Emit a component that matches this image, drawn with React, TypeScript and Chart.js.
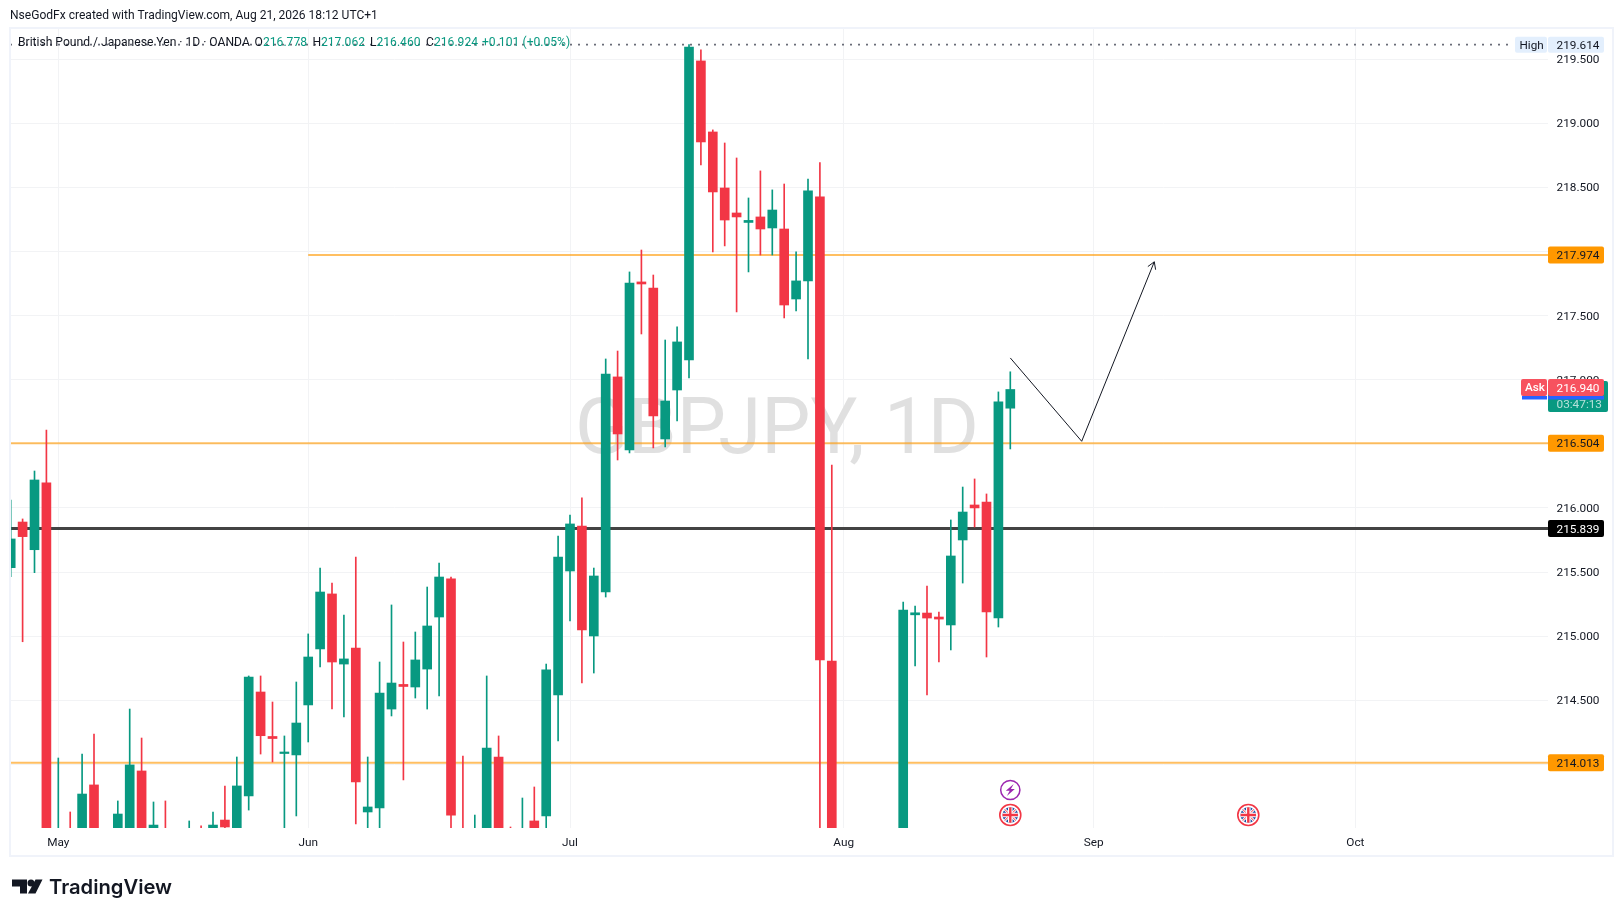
import React, { useEffect, useRef } from "react";
import { Chart, registerables } from "chart.js";

Chart.register(...registerables);

const firstIndex = -4;
const opens = [215.534,215.890,215.674,216.195,213.10,213.45,213.30,213.839,213.30,213.35,213.45,213.948,213.40,213.49,213.30,213.30,213.45,213.40,213.565,213.45,213.753,214.564,214.217,214.084,214.073,214.463,214.900,215.329,214.782,214.907,213.628,213.659,214.431,214.623,214.603,214.743,215.149,215.446,213.45,213.20,213.30,214.057,213.45,213.30,213.558,213.597,214.541,215.508,215.859,215.001,215.344,217.022,216.452,217.763,217.716,216.538,216.920,217.154,219.487,218.933,218.496,218.301,218.227,218.270,218.184,218.176,217.630,217.771,218.426,214.806,213.30,213.40,213.25,213.35,213.30,213.30,215.166,215.180,215.149,215.087,215.750,216.023,216.046,215.141,216.778];
const closes = [215.758,215.776,216.218,213.00,213.45,213.30,213.768,213.35,213.42,213.612,213.995,213.42,213.526,213.30,213.40,213.48,213.35,213.526,213.511,213.831,214.681,214.223,214.201,214.096,214.322,214.837,215.344,214.798,214.822,213.862,213.667,214.556,214.634,214.607,214.814,215.079,215.461,213.604,213.20,213.45,214.127,213.35,213.30,213.45,213.40,214.736,215.617,215.875,215.048,215.469,217.045,216.577,217.755,217.747,216.717,216.834,217.295,219.596,218.855,218.465,218.246,218.270,218.243,218.176,218.324,217.583,217.771,218.473,214.814,213.35,213.40,213.30,213.38,213.25,213.42,215.204,215.182,215.141,215.133,215.625,215.968,216.000,215.188,216.827,216.924];
const highs = [216.062,215.914,216.288,216.608,214.049,213.628,214.080,214.236,213.45,213.714,214.431,214.205,213.706,213.714,213.48,213.558,213.519,213.628,213.831,214.057,214.689,214.689,214.486,214.221,214.642,215.017,215.531,215.414,215.165,215.617,214.057,214.798,215.243,214.954,215.032,215.383,215.570,215.461,214.065,213.604,214.689,214.221,213.511,213.737,213.823,214.782,215.781,215.945,216.078,215.531,217.162,217.224,217.841,218.012,217.817,217.310,217.412,219.614,219.573,218.949,218.847,218.730,218.418,218.629,218.481,218.527,217.997,218.566,218.695,216.335,213.45,213.48,213.42,213.45,213.47,215.266,215.235,215.391,215.188,215.906,216.163,216.226,216.109,216.905,217.062];
const lows = [215.464,214.956,215.495,212.90,213.00,213.10,213.20,213.25,213.20,213.25,213.35,213.30,213.30,213.20,213.20,213.20,213.25,213.30,213.40,213.35,213.643,214.080,214.018,213.45,213.597,214.174,214.759,214.431,214.369,213.534,213.40,213.45,214.377,213.878,214.517,214.431,214.533,213.40,213.10,213.10,213.20,213.20,213.20,213.20,213.30,213.45,214.182,215.118,214.634,214.712,215.305,216.374,216.429,217.357,216.468,216.476,216.678,217.014,218.676,217.997,218.044,217.529,217.841,217.973,217.973,217.482,217.537,217.162,213.30,213.20,213.20,213.20,213.15,213.20,213.25,213.20,214.767,214.541,214.798,214.892,215.414,215.851,214.837,215.071,216.460];

const monthLabels = ["May", "Jun", "Jul", "Aug", "Sep", "Oct"];
const monthIndex = [0, 21, 43, 66, 87, 109];
const priceTicks = [214, 214.5, 215, 215.5, 216, 216.5, 217, 217.5, 218, 218.5, 219, 219.5];

const levels = [217.974, 216.504, 215.839, 214.013];
const levelStart = [21, -4.06, -4.06, -4.06];
const highPrice = 219.614;
const askPrice = 216.94;
const arrowX = [80, 86, 92.1];
const arrowY = [217.17, 216.52, 217.92];
const eventsBolt = [80];
const eventsFlag = [80, 100];

const xMin = -4.059;
const xMax = 125.185;
const yMin = 213.503;
const yMax = 219.744;

const GREEN = "#089981";
const RED = "#f23645";
const ORANGE = "#ff9800";
const LEVEL_COLORS = ["rgba(255,152,0,0.62)", "rgba(255,152,0,0.62)", "#434343", "rgba(255,152,0,0.62)"];
const LEVEL_WIDTHS = [2, 2, 3, 2];
const LEVEL_TAGS = [ORANGE, ORANGE, "#000000", ORANGE];
const LEVEL_TEXT = ["#131722", "#131722", "#ffffff", "#131722"];
const FONT = 'Roboto, "Liberation Sans", sans-serif';
const TICK_FONT_SIZE = 11.8;

const xs = opens.map((_, i) => i + firstIndex);

function roundRect(ctx: CanvasRenderingContext2D, x: number, y: number, w: number, h: number, r: number, fill: string) {
  ctx.fillStyle = fill;
  ctx.beginPath();
  ctx.roundRect(x, y, w, h, r);
  ctx.fill();
}

function drawFlag(ctx: CanvasRenderingContext2D, cx: number, cy: number) {
  ctx.save();
  ctx.beginPath();
  ctx.arc(cx, cy, 10.5, 0, Math.PI * 2);
  ctx.fillStyle = "#fff";
  ctx.fill();
  ctx.strokeStyle = RED;
  ctx.lineWidth = 1.6;
  ctx.stroke();
  ctx.beginPath();
  ctx.arc(cx, cy, 7.8, 0, Math.PI * 2);
  ctx.clip();
  ctx.fillStyle = "#1f4fa3";
  ctx.fillRect(cx - 9, cy - 9, 18, 18);
  ctx.strokeStyle = "#fff";
  ctx.lineWidth = 2.6;
  ctx.beginPath();
  ctx.moveTo(cx - 9, cy - 9);
  ctx.lineTo(cx + 9, cy + 9);
  ctx.moveTo(cx + 9, cy - 9);
  ctx.lineTo(cx - 9, cy + 9);
  ctx.stroke();
  ctx.strokeStyle = RED;
  ctx.lineWidth = 1;
  ctx.stroke();
  ctx.strokeStyle = "#fff";
  ctx.lineWidth = 4.6;
  ctx.beginPath();
  ctx.moveTo(cx, cy - 9);
  ctx.lineTo(cx, cy + 9);
  ctx.moveTo(cx - 9, cy);
  ctx.lineTo(cx + 9, cy);
  ctx.stroke();
  ctx.strokeStyle = RED;
  ctx.lineWidth = 2.4;
  ctx.stroke();
  ctx.restore();
}

function drawBolt(ctx: CanvasRenderingContext2D, cx: number, cy: number) {
  ctx.save();
  ctx.strokeStyle = "#9c27b0";
  ctx.lineWidth = 1.5;
  ctx.beginPath();
  ctx.arc(cx, cy, 9.6, 0, Math.PI * 2);
  ctx.stroke();
  ctx.fillStyle = "#9c27b0";
  ctx.beginPath();
  ctx.moveTo(cx + 3.4, cy - 6);
  ctx.lineTo(cx - 4.5, cy + 0.8);
  ctx.lineTo(cx - 0.6, cy + 0.8);
  ctx.lineTo(cx - 3.4, cy + 6);
  ctx.lineTo(cx + 4.5, cy - 1);
  ctx.lineTo(cx + 0.6, cy - 1);
  ctx.closePath();
  ctx.fill();
  ctx.restore();
}

const backdrop = {
  id: "backdrop",
  beforeDatasetsDraw(chart: any) {
    const { ctx } = chart;
    ctx.save();
    ctx.fillStyle = "#e0e0e0";
    ctx.font = `78px ${FONT}`;
    ctx.textAlign = "center";
    ctx.textBaseline = "alphabetic";
    ctx.fillText("GBPJPY, 1D", 777, 452.5);
    ctx.restore();
  },
};

const overlay = {
  id: "overlay",
  afterDraw(chart: any) {
    const { ctx } = chart;
    const y = chart.scales.y;
    const x = chart.scales.x;
    ctx.save();

    ctx.strokeStyle = "#f0f3fa";
    ctx.lineWidth = 2;
    ctx.strokeRect(10, 28, 1603, 828);

    ctx.textBaseline = "middle";
    ctx.textAlign = "left";
    ctx.font = `12.05px ${FONT}`;
    ctx.fillStyle = "#131722";
    ctx.fillText("NseGodFx created with TradingView.com, Aug 21, 2026 18:12 UTC+1", 10, 16);

    const segments: [string, number, string][] = [
      ["British Pound / Japanese Yen · 1D · OANDA", 18, "#131722"],
      ["O", 254.5, "#131722"], ["216.778", 263, GREEN],
      ["H", 312.5, "#131722"], ["217.062", 321, GREEN],
      ["L", 370, "#131722"], ["216.460", 376.5, GREEN],
      ["C", 426, "#131722"], ["216.924", 434, GREEN],
      ["+0.101", 482, GREEN], ["(+0.05%)", 522.5, GREEN],
    ];
    ctx.font = `12.1px ${FONT}`;
    for (const [t, px, c] of segments) {
      ctx.fillStyle = c;
      ctx.fillText(t, px, 42.5);
    }

    const tagText = (text: string, cy: number, fg: string) => {
      ctx.fillStyle = fg;
      ctx.font = `${TICK_FONT_SIZE}px ${FONT}`;
      ctx.textAlign = "left";
      ctx.fillText(text, 1556.5, cy + 1.2);
    };

    // high marker
    const hy = y.getPixelForValue(highPrice);
    roundRect(ctx, 1515, hy - 8, 32, 16, 2, "#e3effd");
    roundRect(ctx, 1548, hy - 8, 56, 16, 2, "#e3effd");
    ctx.fillStyle = "#131722";
    ctx.font = `11.7px ${FONT}`;
    ctx.textAlign = "left";
    ctx.fillText("High", 1519.5, hy + 1);
    tagText(highPrice.toFixed(3), hy, "#131722");

    // level tags
    levels.forEach((lv, i) => {
      const py = y.getPixelForValue(lv);
      roundRect(ctx, 1548, py - 8.5, 56, 17, 2, LEVEL_TAGS[i]);
      tagText(lv.toFixed(3), py, LEVEL_TEXT[i]);
    });

    // last price and countdown
    roundRect(ctx, 1548, 381, 60, 31, 2, GREEN);
    ctx.fillStyle = "rgba(255,255,255,0.7)";
    ctx.font = `${TICK_FONT_SIZE}px ${FONT}`;
    ctx.fillText("03:47:13", 1556.5, 405);
    ctx.fillStyle = "#2962ff";
    ctx.fillRect(1522, 396, 25, 3.5);
    ctx.fillRect(1548, 396, 56, 3.5);
    const ay = y.getPixelForValue(askPrice);
    roundRect(ctx, 1521, ay - 8.5, 26, 17, 2, "#f7525f");
    roundRect(ctx, 1548, ay - 8.5, 56, 17, 2, "#f7525f");
    ctx.fillStyle = "#fff";
    ctx.font = `500 11.7px ${FONT}`;
    ctx.fillText("Ask", 1525, ay + 1);
    tagText(askPrice.toFixed(3), ay, "#ffffff");

    // arrow head
    const ex = x.getPixelForValue(arrowX[2]);
    const ey = y.getPixelForValue(arrowY[2]);
    const px = x.getPixelForValue(arrowX[1]);
    const py = y.getPixelForValue(arrowY[1]);
    const ang = Math.atan2(ey - py, ex - px);
    ctx.strokeStyle = "#131722";
    ctx.lineWidth = 1;
    ctx.beginPath();
    ctx.moveTo(ex - 8 * Math.cos(ang - 0.55), ey - 8 * Math.sin(ang - 0.55));
    ctx.lineTo(ex, ey);
    ctx.lineTo(ex - 8 * Math.cos(ang + 0.55), ey - 8 * Math.sin(ang + 0.55));
    ctx.stroke();

    // event icons
    eventsBolt.forEach((i) => drawBolt(ctx, x.getPixelForValue(i), 790));
    eventsFlag.forEach((i) => drawFlag(ctx, x.getPixelForValue(i), 815));

    // logo
    ctx.fillStyle = "#131722";
    ctx.beginPath();
    ctx.moveTo(12, 879.5);
    ctx.lineTo(27, 879.5);
    ctx.lineTo(27, 893.5);
    ctx.lineTo(20, 893.5);
    ctx.lineTo(20, 886.5);
    ctx.lineTo(12, 886.5);
    ctx.closePath();
    ctx.fill();
    ctx.beginPath();
    ctx.arc(31, 883, 3.5, 0, Math.PI * 2);
    ctx.fill();
    ctx.beginPath();
    ctx.moveTo(35.5, 879.5);
    ctx.lineTo(42.5, 879.5);
    ctx.lineTo(35.5, 893.5);
    ctx.lineTo(28, 893.5);
    ctx.closePath();
    ctx.fill();
    ctx.font = "600 20.2px Inter, sans-serif";
    ctx.textAlign = "left";
    ctx.textBaseline = "alphabetic";
    ctx.fillText("TradingView", 49, 893.5);
    ctx.restore();
  },
};

export default function App() {
  const ref = useRef<HTMLCanvasElement | null>(null);
  useEffect(() => {
    const colors = opens.map((o, i) => (closes[i] >= o ? GREEN : RED));
    const lineBase = { type: "line", pointRadius: 0, fill: false, tension: 0, order: 5 };
    const chart = new Chart(ref.current as HTMLCanvasElement, {
      type: "bar",
      data: {
        datasets: [
          ...levels.map((lv, i) => ({
            ...lineBase,
            data: [{ x: levelStart[i], y: lv }, { x: xMax, y: lv }],
            borderColor: LEVEL_COLORS[i],
            borderWidth: LEVEL_WIDTHS[i],
          })),
          {
            ...lineBase,
            data: [{ x: xMin, y: highPrice }, { x: 122, y: highPrice }],
            borderColor: "#6a6d78",
            borderWidth: 1.6,
            borderDash: [2, 6],
          },
          {
            ...lineBase,
            order: 0,
            data: arrowX.map((v, i) => ({ x: v, y: arrowY[i] })),
            borderColor: "#131722",
            borderWidth: 1,
          },
          {
            type: "bar",
            order: 2,
            grouped: false,
            barThickness: 1,
            data: xs.map((v, i) => ({ x: v, y: [lows[i], highs[i]] })),
            backgroundColor: colors,
          },
          {
            type: "bar",
            order: 1,
            grouped: false,
            barThickness: 9,
            data: xs.map((v, i) => ({ x: v, y: [opens[i], closes[i]] })),
            backgroundColor: colors,
          },
        ] as any,
      },
      options: {
        animation: false,
        responsive: false,
        devicePixelRatio: 1,
        layout: { padding: { left: 10, top: 28, right: 11, bottom: 61 } },
        plugins: { legend: { display: false }, tooltip: { enabled: false } },
        scales: {
          x: {
            type: "linear",
            offset: false,
            min: xMin,
            max: xMax,
            border: { display: false },
            grid: { offset: false, color: "#f2f3f5", drawTicks: false, lineWidth: 1 },
            afterBuildTicks: (s: any) => {
              s.ticks = monthIndex.map((v) => ({ value: v }));
            },
            afterFit: (s: any) => {
              s.height = 27;
            },
            ticks: {
              autoSkip: false,
              maxRotation: 0,
              padding: 8,
              color: "#131722",
              font: { size: TICK_FONT_SIZE, family: FONT },
              callback: (v: any) => monthLabels[monthIndex.indexOf(Number(v))] ?? "",
            },
          },
          y: {
            type: "linear",
            position: "right",
            min: yMin,
            max: yMax,
            border: { display: false },
            grid: { color: "#f2f3f5", drawTicks: false, lineWidth: 1 },
            afterBuildTicks: (s: any) => {
              s.ticks = priceTicks.map((v) => ({ value: v }));
            },
            afterFit: (s: any) => {
              s.width = 64;
            },
            ticks: {
              padding: 8.5,
              labelOffset: 1,
              color: "#131722",
              font: { size: TICK_FONT_SIZE, family: FONT },
              callback: (v: any) => Number(v).toFixed(3),
            },
          },
        },
      } as any,
      plugins: [backdrop, overlay],
    });
    return () => chart.destroy();
  }, []);
  return (
    <div style={{ position: "fixed", left: 0, top: 0, width: 1623, height: 916, background: "#fff" }}>
      <canvas ref={ref} width={1623} height={916} style={{ display: "block", width: 1623, height: 916 }} />
    </div>
  );
}
